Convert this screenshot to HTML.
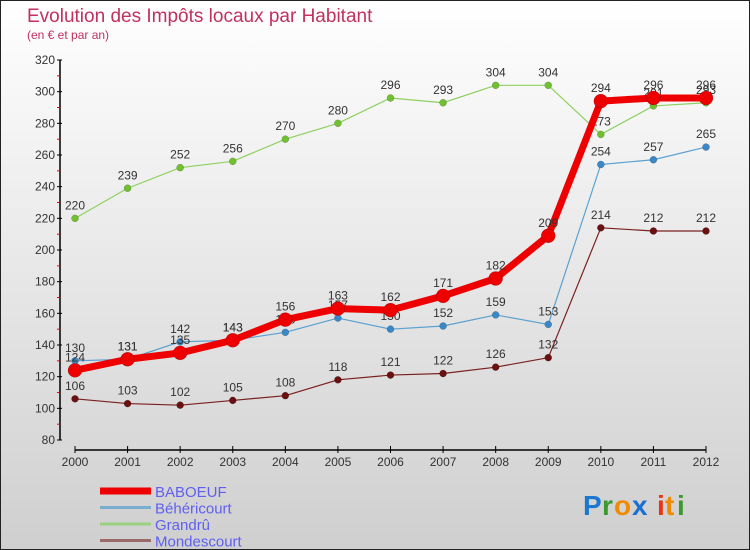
<!DOCTYPE html>
<html><head><meta charset="utf-8">
<style>
html,body{margin:0;padding:0;}
body{width:750px;height:550px;overflow:hidden;font-family:"Liberation Sans",sans-serif;}
svg{display:block;}
</style></head>
<body>
<svg id="chart" width="750" height="550" xmlns="http://www.w3.org/2000/svg">
<defs>
<linearGradient id="bg" x1="0" y1="0" x2="0" y2="1">
<stop offset="0" stop-color="#ffffff"/><stop offset="1" stop-color="#cfcfcf"/>
</linearGradient>
</defs>
<rect x="0.5" y="0.5" width="749" height="549" fill="url(#bg)" stroke="#222" stroke-width="1"/>
<text x="27" y="22" font-size="19" fill="#c2305e">Evolution des Impôts locaux par Habitant</text>
<text x="27" y="39" font-size="12" fill="#c2305e">(en € et par an)</text>
<g id="axes"></g>
<g id="series"></g>
<g id="legend"></g>
<g font-size="28" font-family="Liberation Sans, sans-serif" font-weight="bold">
<text x="583" y="515" fill="#1a78d0">P</text>
<text x="602" y="515" fill="#3a9a30">r</text>
<text x="614" y="515" fill="#f08a00">o</text>
<text x="632" y="515" fill="#1a70d0">x</text>
<text x="657" y="515" fill="#f03010">i</text>
<text x="665" y="515" fill="#f08a00">t</text>
<text x="677" y="515" fill="#3a9a30">i</text>
</g>
</svg>
<script>
const years=["2000","2001","2002","2003","2004","2005","2006","2007","2008","2009","2010","2011","2012"];
const yTicks=[80,100,120,140,160,180,200,220,240,260,280,300,320];
const seriesNames=["BABOEUF","Béhéricourt","Grandrû","Mondescourt"];
const baboeuf=[124,131,135,143,156,163,162,171,182,209,294,296,296];
const behericourt=[130,131,142,143,148,157,150,152,159,153,254,257,265];
const grandru=[220,239,252,256,270,280,296,293,304,304,273,291,293];
const mondescourt=[106,103,102,105,108,118,121,122,126,132,214,212,212];
const NS="http://www.w3.org/2000/svg";
function xS(i){return 75+i*(706-75)/(years.length-1);}
function yS(v){return 440-(v-80)*(380/240);}
function mk(tag,attrs,parent){const e=document.createElementNS(NS,tag);for(const k in attrs)e.setAttribute(k,attrs[k]);parent.appendChild(e);return e;}
const axes=document.getElementById('axes');
const ya=mk('line',{x1:60,y1:yS(320),x2:60,y2:yS(80),stroke:'#000','stroke-width':1.5},axes);


yTicks.forEach(v=>{
 const t=mk('line',{x1:57,y1:yS(v),x2:62,y2:yS(v),stroke:'#000'},axes);
 
 
 const m=mk('line',{x1:57,y1:yS(v+10),x2:60,y2:yS(v+10),stroke:'#e00'},axes);
 if(v===320)m.remove();
 const l=mk('text',{x:55,y:yS(v)+4,'font-size':12,'text-anchor':'end',fill:'#333'},axes);
 l.textContent=v;
 
 
});
const xa=mk('line',{x1:75,y1:450,x2:706,y2:450,stroke:'#000','stroke-width':1.5},axes);


years.forEach((y,i)=>{
 mk('line',{x1:xS(i),y1:446,x2:xS(i),y2:453,stroke:'#000'},axes);
 const l=mk('text',{x:xS(i),y:466,'font-size':12,'text-anchor':'middle',fill:'#333'},axes);
 l.textContent=y;
 
 
});
const sg=document.getElementById('series');
const defs=[
 {d:mondescourt,c:'#7a2020',w:1.2,r:3.5,fill:'#6a1010',name:'mondescourt'},
 {d:grandru,c:'#8fd060',w:1.2,r:3.5,fill:'#70c030',name:'grandru'},
 {d:behericourt,c:'#5aa0d0',w:1.2,r:3.5,fill:'#3a88c8',name:'behericourt'},
 {d:baboeuf,c:'#ee0000',w:7,r:7,fill:'#ee0000',name:'baboeuf'}
];
defs.forEach(s=>{
 const g=mk('g',{},sg);
 
 
 const pts=s.d.map((v,i)=>xS(i)+','+yS(v)).join(' ');
 const pl=mk('polyline',{points:pts,fill:'none',stroke:s.c,'stroke-width':s.w,'stroke-linejoin':'round'},g);
 
 
 s.d.forEach((v,i)=>{
  const c=mk('circle',{cx:xS(i),cy:yS(v),r:s.r,fill:s.fill,stroke:'rgba(0,0,0,0.3)','stroke-width':0.5},g);
  
  
  const t=mk('text',{x:xS(i),y:yS(v)-9,'font-size':12,'text-anchor':'middle',fill:'#333'},g);
  t.textContent=v;
  
  
 });
});
const lg=document.getElementById('legend');
const lc=['#ee0000','#7aaed0','#9ad080','#9a6a6a'];
const lw=[7,3,3,3];
seriesNames.forEach((n,i)=>{
 const y=491+i*16.5;
 const ln=mk('line',{x1:100,y1:y,x2:151,y2:y,stroke:lc[i],'stroke-width':lw[i]},lg);
 
 
 const t=mk('text',{x:155,y:y+6,'font-size':15,fill:'#6060f0'},lg);
 t.textContent=n;
 
 
});
</script>
</body></html>
